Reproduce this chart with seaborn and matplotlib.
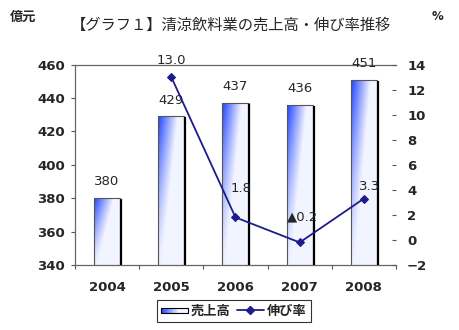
import numpy as np
import pandas as pd
import matplotlib
matplotlib.use("Agg")
import matplotlib.pyplot as plt
import seaborn as sns
from matplotlib.patches import Rectangle
from matplotlib.legend_handler import HandlerBase
from matplotlib.lines import Line2D

years = ["2004", "2005", "2006", "2007", "2008"]
sales = [380, 429, 437, 436, 451]
growth = [np.nan, 13.0, 1.8, -0.2, 3.3]
growth_labels = ["", "13.0", "1.8", "▲0.2", "3.3"]
title = "【グラフ１】清涼飲料業の売上高・伸び率推移"
left_unit = "億元"
right_unit = "%"
legend_bar = "売上高"
legend_line = "伸び率"

sns.set_theme(style="white")
plt.rcParams['font.family'] = ['Noto Sans CJK JP', 'DejaVu Sans']

BLUE = np.array([0.16, 0.30, 1.0])
LINE_C = "#1c1c8c"

fig = plt.figure(figsize=(4.59, 3.30), dpi=100)
ax = fig.add_axes([75/459, 1-265/330, 321/459, 200.5/330])

df = pd.DataFrame({"year": years, "sales": sales})
sns.barplot(data=df, x="year", y="sales", ax=ax, width=0.41,
            color="white", edgecolor="#555555", linewidth=0.8, zorder=2)

ax.set_ylim(340, 460)
ax.set_xlim(-0.5, len(years) - 0.5)

# gradient fill for bars (blue at top-left fading to white toward right/bottom)
ny, nx = 160, 60
u = np.linspace(0, 1, nx)[None, :]
v = np.linspace(1, 0, ny)[:, None]  # top row = 1
reach = 0.12 + 0.62 * v
b = np.clip(1 - u / reach, 0, 1) ** 1.0 * (0.05 + 0.95 * v ** 1.3)
b = np.clip(b + 0.06, 0, 1)
img = 1 - b[..., None] * (1 - BLUE[None, None, :])
for p in list(ax.patches):
    x0, y0, w, h = p.get_x(), p.get_y(), p.get_width(), p.get_height()
    y0b = max(y0, 340)
    im = ax.imshow(img, extent=[x0, x0 + w, y0b, y0 + h], aspect="auto",
                   origin="upper", zorder=2.5, interpolation="bilinear")
    im.set_clip_path(p)
    p.set_zorder(3)
    p.set_facecolor("none")
    ax.plot([x0 + w + 0.012, x0 + w + 0.012], [y0b, y0 + h - 0.6],
            color="black", lw=1.6, zorder=3, solid_capstyle="butt")
ax.set_ylim(340, 460)
ax.set_xlim(-0.5, len(years) - 0.5)

for i, s in enumerate(sales):
    ax.annotate(f"{s}", (i, s), xytext=(0, 7), textcoords="offset points",
                ha="center", va="bottom", fontsize=9.5, family="DejaVu Sans",
                zorder=6)

ax.set_yticks(np.arange(340, 461, 20))
ax.set_xlabel("")
ax.set_ylabel("")
ax.tick_params(axis="y", which="major", left=True, length=3, width=0.8,
               color="#555555", pad=4, labelsize=9.5)
ax.tick_params(axis="x", which="major", bottom=False, pad=5.5, labelsize=9.5)
ax.set_xticks(np.arange(-0.5, len(years) + 0.5, 1), minor=True)
ax.tick_params(axis="x", which="minor", bottom=True, length=3, width=0.8,
               color="#555555")
for lab in ax.get_xticklabels() + ax.get_yticklabels():
    lab.set_fontweight("bold")
    lab.set_family("DejaVu Sans")

for side in ["left", "top", "bottom"]:
    ax.spines[side].set_visible(True)
    ax.spines[side].set_color("#666666")
    ax.spines[side].set_linewidth(0.9)
ax.spines["right"].set_visible(False)

ax2 = ax.twinx()
ldf = pd.DataFrame({"pos": np.arange(len(years)), "growth": growth})
sns.lineplot(data=ldf, x="pos", y="growth", ax=ax2, color=LINE_C,
             marker="D", markersize=4, markeredgecolor=LINE_C, lw=1.3,
             zorder=5)
ax2.set_ylim(-2, 14)
ax2.set_yticks(np.arange(-2, 15, 2))
ax2.set_xlim(-0.5, len(years) - 0.5)
ax2.set_ylabel("")
ax2.set_xlabel("")
ax2.tick_params(axis="y", right=True, length=3, width=0.8, color="#555555",
                pad=8, labelsize=9.5, direction="in")
for lab in ax2.get_yticklabels():
    lab.set_fontweight("bold")
    lab.set_family("DejaVu Sans")
for side in ax2.spines:
    ax2.spines[side].set_visible(False)

offsets = {1: (0, 7), 2: (4, 16), 3: (2, 14), 4: (4, 4)}
for i, g in enumerate(growth):
    if np.isnan(g):
        continue
    dx, dy = offsets[i]
    ax2.annotate(growth_labels[i], (i, g), xytext=(dx, dy),
                 textcoords="offset points", ha="center", va="bottom",
                 fontsize=9.5, family=["DejaVu Sans", "Noto Sans CJK JP"],
                 zorder=7)

fig.text(231/459, 1-25/330, title, ha="center", va="center", fontsize=11)
fig.text(23/459, 1-17/330, left_unit, ha="center", va="center",
         fontsize=9.5, fontweight="bold")
fig.text(437/459, 1-17/330, right_unit, ha="center", va="center",
         fontsize=8.5, fontweight="bold", family="DejaVu Sans")


class GradHandler(HandlerBase):
    def create_artists(self, legend, orig, xd, yd, w, h, fontsize, trans):
        arts = []
        n = 20
        hh = h * 0.55
        y0 = yd + (h - hh) / 2
        for k in range(n):
            t = k / (n - 1)
            bb = max(0.05, 1 - t * 1.4)
            c = 1 - bb * (1 - BLUE)
            arts.append(Rectangle((xd + w * k / n, y0), w / n + 0.3, hh,
                                  facecolor=c, edgecolor="none",
                                  transform=trans))
        arts.append(Rectangle((xd, y0), w, hh, facecolor="none",
                              edgecolor="black", lw=0.8, transform=trans))
        return arts


bar_handle = Rectangle((0, 0), 1, 1)
line_handle = Line2D([], [], color=LINE_C, marker="D", markersize=4, lw=1.3)
leg = fig.legend([bar_handle, line_handle], [legend_bar, legend_line],
                 handler_map={Rectangle: GradHandler()},
                 loc="center", bbox_to_anchor=(234/459, 1-311/330), ncol=2,
                 frameon=True, fancybox=False, edgecolor="black",
                 fontsize=9.5, handlelength=2.0, handletextpad=0.25,
                 columnspacing=0.5, borderpad=0.3, borderaxespad=0)
leg.get_frame().set_linewidth(0.8)
for t in leg.get_texts():
    t.set_fontweight("bold")

fig.savefig("out.png", dpi=100)
